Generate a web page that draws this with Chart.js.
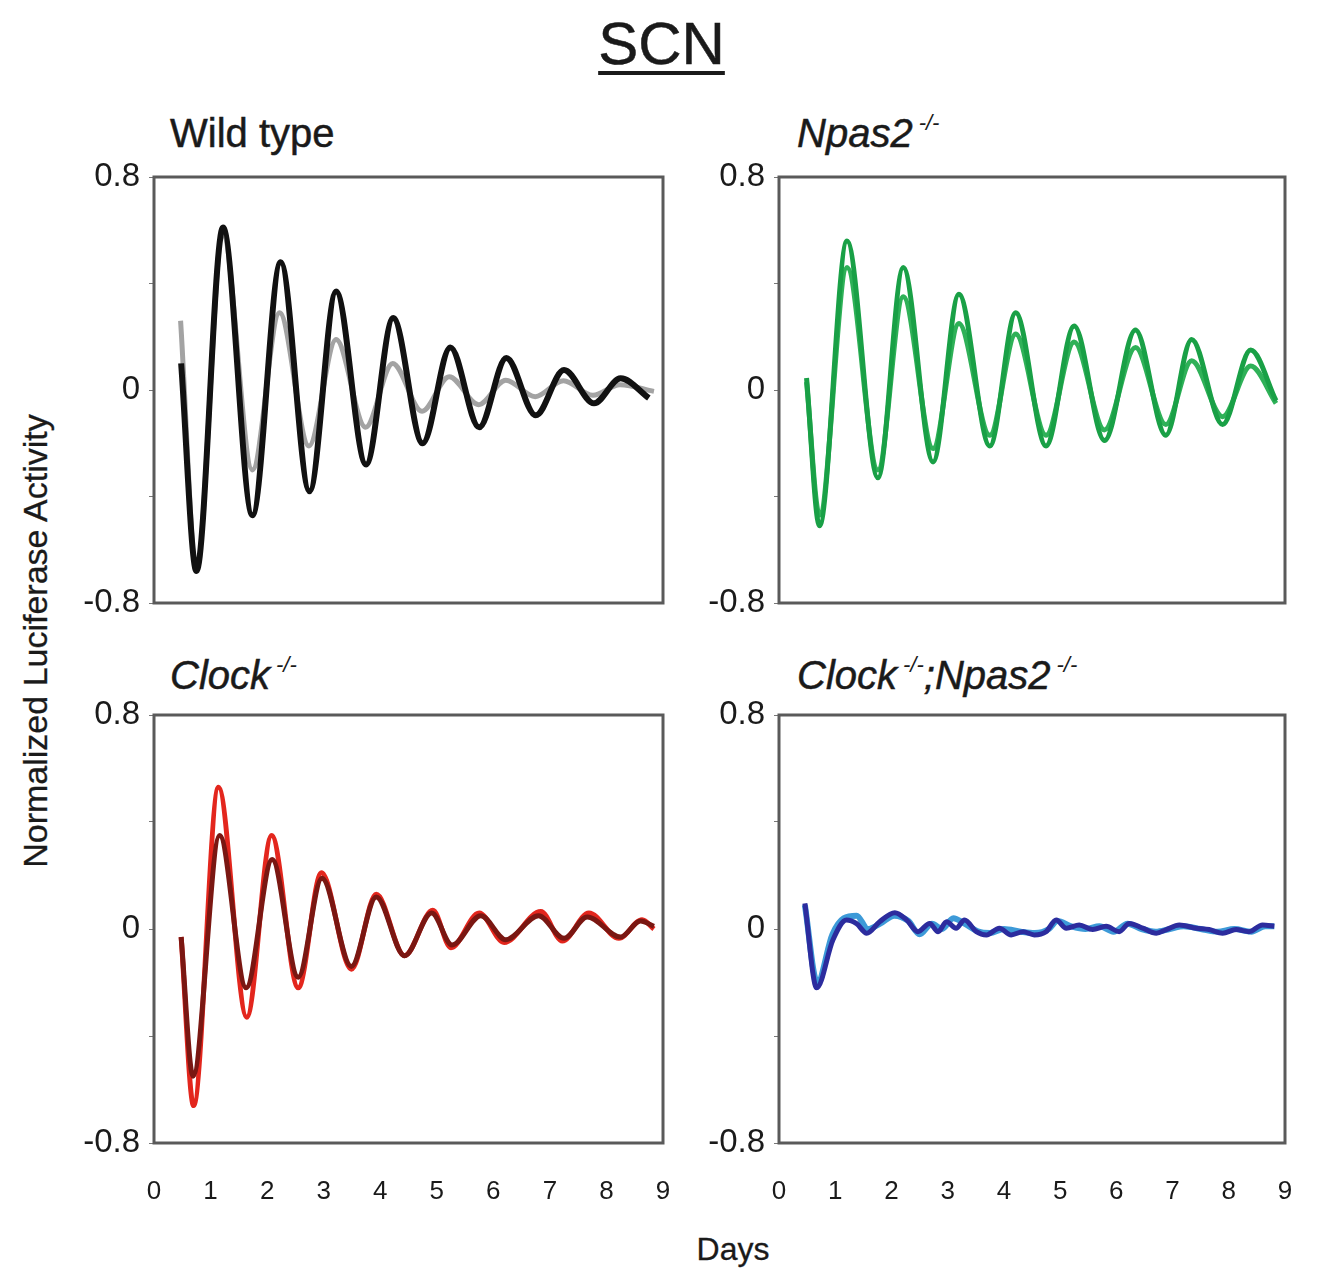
<!DOCTYPE html>
<html>
<head>
<meta charset="utf-8">
<script src="https://cdn.jsdelivr.net/npm/chart.js@4.4.1/dist/chart.umd.min.js"></script>
<style>
  body { margin: 0; background: #fff; font-family: 'Liberation Sans', Arial, sans-serif; color: #1a1a1a; }
  #fig { position: relative; width: 1319px; height: 1274px; overflow: hidden; background: #fff; }
  #fig canvas { position: absolute; }
  .t { position: absolute; white-space: nowrap; -webkit-text-stroke: 0.5px #1a1a1a; }
  .ttl { font-size: 40px; line-height: 40px; }
  .sup { font-size: 22px; position: relative; top: -17px; margin-left: 6px; font-style: italic; -webkit-text-stroke: 0; }
</style>
</head>
<body>
<div id="fig">
  <div class="t" style="left:2px; width:1319px; top:14px; text-align:center; font-size:60px; line-height:60px;">
    <span style="text-decoration: underline; text-decoration-thickness: 4px; text-underline-offset: 7px;">SCN</span>
  </div>

  <div class="t ttl" style="left:170px; top:113px;">Wild type</div>
  <div class="t ttl" style="left:797px; top:113px;"><i>Npas2</i><span class="sup">-/-</span></div>
  <div class="t ttl" style="left:170px; top:655px;"><i>Clock</i><span class="sup">-/-</span></div>
  <div class="t ttl" style="left:797px; top:655px;"><i>Clock</i><span class="sup">-/-</span><i>;Npas2</i><span class="sup">-/-</span></div>

  <div class="t" style="left:35px; top:641px; font-size:34px; line-height:34px; -webkit-text-stroke: 0.3px #1a1a1a; transform: translate(-50%, -50%) rotate(-90deg);">Normalized Luciferase Activity</div>
  <div class="t" style="left:733px; top:1233px; font-size:32px; line-height:32px; -webkit-text-stroke: 0.3px #1a1a1a; transform: translateX(-50%);">Days</div>

  <canvas id="wt" width="640" height="490" style="left:40px; top:145px;"></canvas>
  <canvas id="npas2" width="637" height="490" style="left:665px; top:145px;"></canvas>
  <canvas id="clock" width="640" height="557" style="left:40px; top:683px;"></canvas>
  <canvas id="dko" width="637" height="557" style="left:665px; top:683px;"></canvas>
</div>

<script>
// values: peaks/troughs in days vs normalized luciferase
const xTicks = [0, 1, 2, 3, 4, 5, 6, 7, 8, 9];

const wtBlackDays = [0.48, 0.75, 1.22, 1.74, 2.24, 2.75, 3.22, 3.75, 4.23, 4.75, 5.24, 5.75, 6.23, 6.75, 7.25, 7.78, 8.25, 8.75];
const wtBlack     = [0.10, -0.68, 0.61, -0.47, 0.48, -0.38, 0.37, -0.28, 0.27, -0.20, 0.16, -0.14, 0.12, -0.095, 0.075, -0.05, 0.044, -0.03];
const wtGreyDays  = [0.47, 0.75, 1.22, 1.74, 2.22, 2.74, 3.22, 3.74, 4.22, 4.74, 5.22, 5.74, 6.22, 6.74, 7.24, 7.76, 8.24, 8.84];
const wtGrey      = [0.26, -0.66, 0.58, -0.30, 0.29, -0.21, 0.19, -0.14, 0.10, -0.08, 0.05, -0.055, 0.037, -0.025, 0.035, -0.02, 0.02, -0.005];

const npasDays = [0.49, 0.72, 1.21, 1.76, 2.21, 2.74, 3.20, 3.75, 4.21, 4.75, 5.25, 5.79, 6.34, 6.88, 7.34, 7.89, 8.39, 8.84];
const npasA    = [0.045, -0.51, 0.56, -0.33, 0.46, -0.27, 0.36, -0.21, 0.29, -0.21, 0.24, -0.19, 0.225, -0.17, 0.19, -0.13, 0.15, -0.04];
const npasB    = [0.03, -0.47, 0.46, -0.30, 0.35, -0.22, 0.25, -0.17, 0.21, -0.17, 0.18, -0.15, 0.16, -0.13, 0.11, -0.10, 0.09, -0.05];

const clockRedDays  = [0.48, 0.70, 1.14, 1.64, 2.08, 2.55, 2.96, 3.49, 3.93, 4.43, 4.93, 5.25, 5.75, 6.19, 6.84, 7.22, 7.69, 8.22, 8.63, 8.84];
const clockRed      = [-0.03, -0.66, 0.53, -0.33, 0.35, -0.22, 0.21, -0.15, 0.13, -0.10, 0.07, -0.07, 0.06, -0.05, 0.065, -0.045, 0.06, -0.035, 0.035, 0.0];
const clockDarkDays = [0.48, 0.69, 1.16, 1.63, 2.09, 2.55, 2.97, 3.49, 3.93, 4.43, 4.91, 5.27, 5.78, 6.22, 6.80, 7.25, 7.66, 8.25, 8.60, 8.84];
const clockDark     = [-0.03, -0.55, 0.35, -0.22, 0.26, -0.18, 0.19, -0.14, 0.12, -0.10, 0.06, -0.06, 0.05, -0.04, 0.05, -0.035, 0.045, -0.03, 0.03, 0.01];

const dkoNavyDays = [0.46, 0.67, 0.96, 1.20, 1.38, 1.56, 1.79, 2.06, 2.27, 2.47, 2.68, 2.83, 2.98, 3.15, 3.30, 3.51, 3.69, 3.92, 4.13, 4.34, 4.54, 4.75, 4.93, 5.11, 5.34, 5.58, 5.82, 6.05, 6.23, 6.47, 6.71, 6.89, 7.12, 7.42, 7.65, 7.89, 8.13, 8.36, 8.60, 8.81];
const dkoNavy     = [0.096, -0.22, -0.04, 0.034, 0.02, -0.016, 0.027, 0.061, 0.034, -0.01, 0.021, -0.01, 0.027, 0.003, 0.034, -0.01, -0.022, 0.003, -0.022, -0.01, -0.022, -0.01, 0.034, 0.003, 0.015, -0.002, 0.01, -0.01, 0.021, 0.003, -0.016, -0.002, 0.015, 0.003, -0.002, -0.016, -0.002, -0.01, 0.015, 0.01];
const dkoCyanDays = [0.46, 0.68, 0.95, 1.15, 1.38, 1.58, 1.80, 2.05, 2.30, 2.50, 2.72, 2.90, 3.10, 3.30, 3.55, 3.75, 4.00, 4.30, 4.55, 4.80, 4.95, 5.20, 5.45, 5.70, 5.95, 6.20, 6.45, 6.70, 6.95, 7.20, 7.50, 7.80, 8.10, 8.40, 8.65, 8.81];
const dkoCyan     = [0.09, -0.20, -0.02, 0.04, 0.05, 0.00, 0.02, 0.05, 0.03, -0.02, 0.02, 0.00, 0.04, 0.02, -0.01, -0.015, 0.00, -0.01, -0.015, 0.0, 0.03, 0.01, 0.00, 0.01, -0.01, 0.02, 0.00, -0.01, 0.00, 0.01, 0.00, -0.01, 0.00, -0.01, 0.01, 0.01];

const fontFamily = "'Liberation Sans', Arial, sans-serif";

// box round the plot area
const framePlugin = {
    id: 'frame',
    afterDraw(chart) {
        const a = chart.chartArea;
        const c = chart.ctx;
        c.save();
        c.strokeStyle = '#5a5a5a';
        c.lineWidth = 3;
        c.strokeRect(a.left, a.top, a.right - a.left, a.bottom - a.top);
        c.restore();
    }
};

function series(days, vals, color, width) {
    return {
        data: days.map((d, i) => ({ x: d, y: vals[i] })),
        borderColor: color,
        borderWidth: width,
        pointRadius: 0,
        fill: false,
        cubicInterpolationMode: 'monotone'
    };
}

function makePanel(id, datasets, showX) {
    return new Chart(document.getElementById(id), {
        type: 'line',
        data: { datasets: datasets },
        options: {
            responsive: false,
            animation: false,
            events: [],
            layout: { padding: { top: 32, right: 17, bottom: showX ? 0 : 32, left: 0 } },
            plugins: { legend: { display: false }, tooltip: { enabled: false } },
            scales: {
                x: {
                    type: 'linear',
                    min: xTicks[0],
                    max: xTicks[xTicks.length - 1],
                    display: showX,
                    // invisible tick marks push the labels down without widening the side padding
                    grid: { display: true, drawOnChartArea: false, drawTicks: true, tickLength: 29, color: 'rgba(0,0,0,0)' },
                    border: { display: false },
                    afterBuildTicks: s => { s.ticks = xTicks.map(v => ({ value: v })); },
                    ticks: {
                        autoSkip: false,
                        maxRotation: 0,
                        padding: 4,
                        color: '#1a1a1a',
                        font: { family: fontFamily, size: 26 }
                    },
                    afterFit: s => { if (showX) s.height = 97; }
                },
                y: {
                    min: -0.8,
                    max: 0.8,
                    grid: { drawOnChartArea: false, tickLength: 5, color: '#777' },
                    border: { display: false },
                    ticks: {
                        stepSize: 0.4,
                        padding: 9,
                        color: '#1a1a1a',
                        font: { family: fontFamily, size: 33 },
                        callback: v => {
                            if (Math.abs(v) < 1e-6) return '0';
                            if (Math.abs(Math.abs(v) - 0.8) < 1e-6) return v.toFixed(1);
                            return '';
                        }
                    },
                    afterFit: s => { s.width = 114; }
                }
            }
        },
        plugins: [framePlugin]
    });
}

makePanel('wt', [
    series(wtBlackDays, wtBlack, '#111111', 6),
    series(wtGreyDays, wtGrey, '#a3a3a3', 5)
], false);

makePanel('npas2', [
    series(npasDays, npasA, '#19a046', 5),
    series(npasDays, npasB, '#2fb158', 5)
], false);

makePanel('clock', [
    series(clockDarkDays, clockDark, '#7a1712', 5),
    series(clockRedDays, clockRed, '#e3261d', 5)
], true);

makePanel('dko', [
    series(dkoNavyDays, dkoNavy, '#2c2c9e', 5),
    series(dkoCyanDays, dkoCyan, '#3d9ad8', 6)
], true);
</script>
</body>
</html>
